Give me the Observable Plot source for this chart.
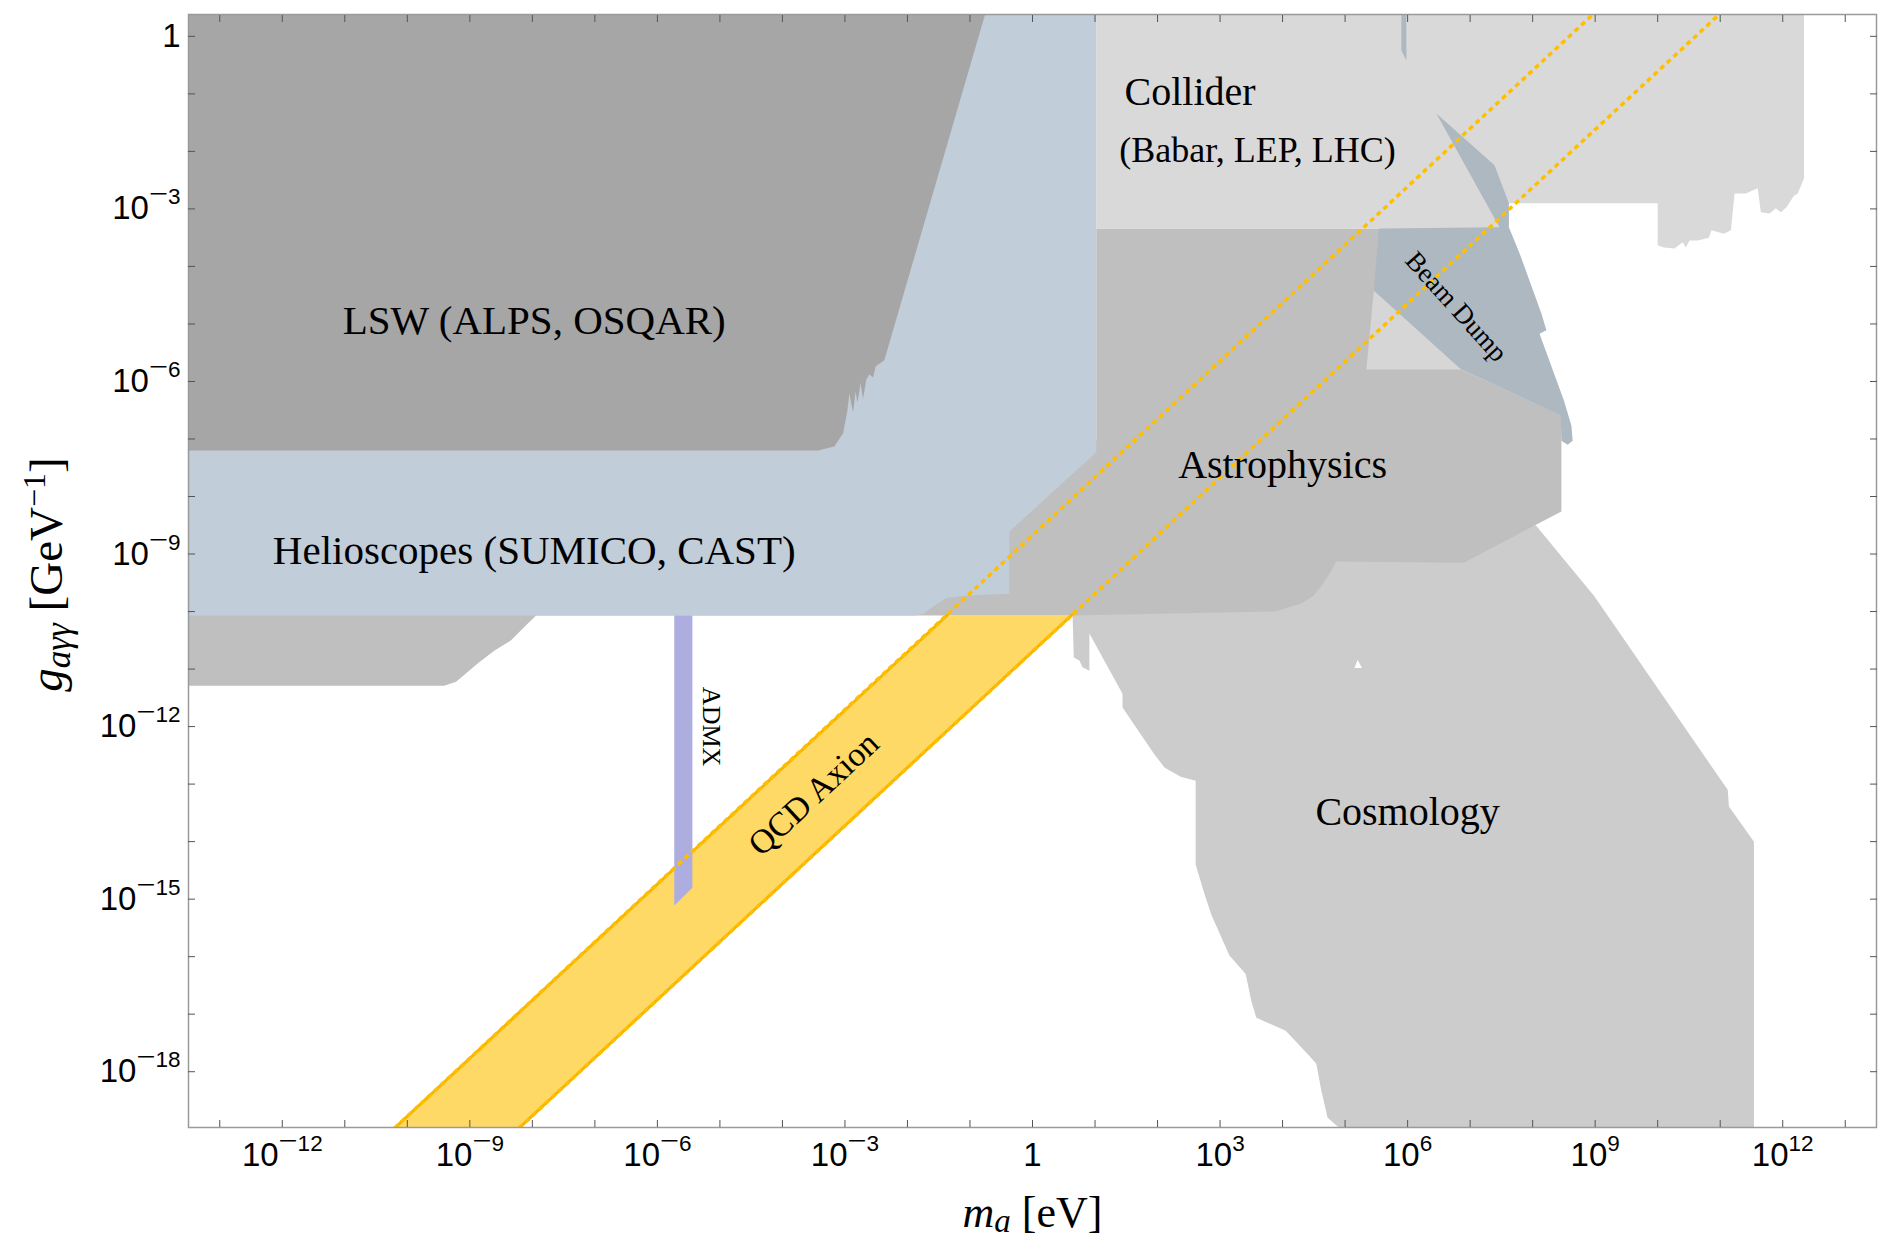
<!DOCTYPE html>
<html>
<head>
<meta charset="utf-8">
<script src="https://cdn.jsdelivr.net/npm/d3@7"></script>
<script src="https://cdn.jsdelivr.net/npm/@observablehq/plot@0.6"></script>
<style>
  html, body { margin: 0; padding: 0; background: #fff; }
  svg { display: block; }
</style>
</head>
<body>
<div id="chart"></div>
<script>
// All vertices are [log10(m_a / eV), log10(g_aγγ / GeV^-1)]
const lswBoundary = [[-13.6,0.6],[-13.6,-7.2],[-3.43,-7.2],[-3.17,-7.13],[-3.03,-6.9],[-2.96,-6.5],[-2.93,-6.21],[-2.87,-6.54],[-2.83,-6.17],[-2.8,-6.37],[-2.75,-6.03],[-2.71,-6.3],[-2.66,-5.97],[-2.61,-5.88],[-2.55,-5.93],[-2.51,-5.74],[-2.37,-5.63],[-0.7,0.6]];
const helioscopeBoundary = [[-13.6,0.6],[1.02,0.6],[1.02,-7.23],[-0.37,-8.61],[-0.37,-9.69],[-1.07,-9.72],[-1.38,-9.77],[-1.57,-9.9],[-1.74,-10.03],[-1.86,-10.07],[-13.6,-10.07]];
const astrophysicsBoundary = [[-13.6,-9.8],[-13.6,-11.29],[-9.41,-11.29],[-9.22,-11.22],[-8.86,-10.89],[-8.61,-10.68],[-8.34,-10.5],[-8.1,-10.24],[-7.94,-10.07],[0.64,-10.07],[3.87,-10.0],[4.3,-9.86],[4.5,-9.72],[4.64,-9.53],[4.78,-9.29],[4.86,-9.13],[6.9,-9.15],[8.46,-8.26],[8.46,-6.59],[6.86,-5.79],[6.5,-4.5],[6.5,-3.34],[1.02,-3.34],[1.02,-7.03],[-0.5,-8.07]];
const cosmologyBoundary = [[0.64,-10.03],[0.66,-10.8],[0.75,-10.85],[0.8,-10.97],[0.91,-11.03],[0.91,-10.38],[1.44,-11.43],[1.44,-11.67],[1.94,-12.47],[2.11,-12.71],[2.37,-12.87],[2.61,-12.94],[2.61,-14.4],[2.74,-14.87],[2.86,-15.27],[3.15,-15.98],[3.41,-16.3],[3.5,-16.77],[3.58,-17.06],[4.05,-17.29],[4.4,-17.69],[4.54,-17.86],[4.62,-18.33],[4.72,-18.8],[4.9,-18.97],[4.99,-19.2],[11.54,-19.2],[11.54,-14.0],[11.14,-13.39],[11.12,-13.1],[8.99,-9.74],[8.05,-8.5],[4.9,-8.8],[4.3,-9.6],[0.64,-9.8]];
const cosmologyGap = [[5.15,-10.98],[5.2,-10.84],[5.27,-10.98]];
const colliderBoundary = [[1.02,0.6],[12.34,0.6],[12.34,-2.47],[12.24,-2.73],[12.18,-2.77],[12.06,-2.97],[11.97,-3.06],[11.89,-2.99],[11.79,-3.08],[11.65,-3.06],[11.6,-2.64],[11.41,-2.73],[11.23,-2.73],[11.17,-3.37],[11.06,-3.43],[10.86,-3.37],[10.82,-3.5],[10.64,-3.55],[10.51,-3.55],[10.45,-3.67],[10.4,-3.58],[10.27,-3.69],[10.1,-3.67],[10.0,-3.63],[10.0,-2.9],[7.62,-2.9],[7.47,-3.34],[1.02,-3.34]];
const colliderPatch = [[5.46,-4.42],[5.34,-5.79],[6.86,-5.79]];
const beamDumpBoundary = [[6.46,-1.34],[7.39,-2.24],[7.62,-2.9],[7.62,-3.32],[7.79,-3.77],[8.14,-4.82],[8.22,-5.11],[8.11,-5.17],[8.5,-6.33],[8.62,-6.77],[8.64,-7.03],[8.56,-7.1],[8.46,-7.03],[8.45,-6.59],[6.86,-5.79],[5.46,-4.42],[5.54,-3.34],[7.47,-3.32]];
const beamDumpSliver = [[5.9,0.6],[5.98,0.6],[5.98,-0.42],[5.9,-0.24]];
const admxBoundary = [[-5.73,-10.07],[-5.44,-10.07],[-5.44,-14.8],[-5.73,-15.11]];
const qcdBand = [[-10.52,-19.3],[-1.36,-10.06],[0.63,-10.06],[-8.53,-19.3]];
const qcdUpperEdge = [[-10.52,-19.3],[-1.36,-10.06]];
const qcdLowerEdge = [[-8.53,-19.3],[0.63,-10.06]];
const qcdUpperDotted = [[-10.52,-19.3],[9.18,0.6]];
const qcdLowerDotted = [[-8.53,-19.3],[11.2,0.6]];

const regionLabels = [
  {text: "LSW (ALPS, OSQAR)", lm: -7.97, lg: -4.95},
  {text: "Helioscopes (SUMICO, CAST)", lm: -7.97, lg: -8.94}
];
const regionLabelsRight = [
  {text: "Collider", lm: 2.52, lg: -0.97},
  {text: "Astrophysics", lm: 4.0, lg: -7.46},
  {text: "Cosmology", lm: 6.0, lg: -13.48}
];
const colliderSubLabel = [{text: "(Babar, LEP, LHC)", lm: 3.6, lg: -1.99}];
const beamDumpLabel = [{text: "Beam Dump", lm: 6.78, lg: -4.70}];
const admxLabel = [{text: "ADMX", lm: -5.14, lg: -12.0}];
const qcdLabel = [{text: "QCD Axion", lm: -3.50, lg: -13.17}];

const xLabelExponents = [-12, -9, -6, -3, 0, 3, 6, 9, 12];
const yLabelExponents = [0, -3, -6, -9, -12, -15, -18];
const xTickExponents = [-13,-12,-11,-10,-9,-8,-7,-6,-5,-4,-3,-2,-1,0,1,2,3,4,5,6,7,8,9,10,11,12,13];
const yTickExponents = [0,-1,-2,-3,-4,-5,-6,-7,-8,-9,-10,-11,-12,-13,-14,-15,-16,-17,-18];

const xTitle = "m_a [eV]";
const yTitle = "g_aγγ [GeV^-1]";

// ---- helpers ----
const toPts = arr => arr.map(([lm, lg]) => ({m: 10 ** lm, g: 10 ** lg}));
const pow10 = arr => arr.map(e => 10 ** e);
const region = (arr, fill) => Plot.line(toPts(arr), {x: "m", y: "g", fill, stroke: "none", curve: "linear", clip: true});
const expLabel = v => {
  const e = Math.round(Math.log10(v));
  return e === 0 ? "1" : "10^" + (e < 0 ? "\u2212" : "") + Math.abs(e);
};
const lab = arr => arr.map(d => ({...d, m: 10 ** d.lm, g: 10 ** d.lg}));

const serif = "Liberation Serif, Times New Roman, serif";
const sans = "Liberation Sans, Arial, Helvetica, sans-serif";
const dotted = {x: "m", y: "g", stroke: "#ffbf00", strokeWidth: 3.5, strokeDasharray: "5,4", strokeLinecap: "butt", clip: true};

const svg = Plot.plot({
  width: 1881,
  height: 1240,
  marginLeft: 188,
  marginRight: 5,
  marginTop: 14,
  marginBottom: 113,
  style: {fontFamily: sans, fontSize: "33px", background: "#fff", color: "#000"},
  x: {type: "log", domain: [10 ** -13.5, 10 ** 13.5]},
  y: {type: "log", domain: [10 ** -18.97, 10 ** 0.38]},
  marks: [
    region(cosmologyBoundary, "#cccccc"),
    region(cosmologyGap, "#ffffff"),
    region(astrophysicsBoundary, "#bfbfbf"),
    region(colliderBoundary, "#d9d9d9"),
    region(colliderPatch, "#d6d6d6"),
    region(beamDumpBoundary, "#aeb8c1"),
    region(beamDumpSliver, "#aeb8c1"),
    region(helioscopeBoundary, "#c1cdd9"),
    region(lswBoundary, "#a6a6a6"),
    region(qcdBand, "#ffd966"),
    Plot.line(toPts(qcdUpperEdge), {x: "m", y: "g", stroke: "#f7b500", strokeWidth: 3, clip: true}),
    Plot.line(toPts(qcdLowerEdge), {x: "m", y: "g", stroke: "#f7b500", strokeWidth: 3, clip: true}),
    region(admxBoundary, "#adaedf"),
    Plot.line(toPts(qcdUpperDotted), dotted),
    Plot.line(toPts(qcdLowerDotted), dotted),
    Plot.text(lab(regionLabels), {x: "m", y: "g", text: "text", fontFamily: serif, fontSize: 41, fill: "#000"}),
    Plot.text(lab(regionLabelsRight), {x: "m", y: "g", text: "text", fontFamily: serif, fontSize: 40, fill: "#000"}),
    Plot.text(lab(colliderSubLabel), {x: "m", y: "g", text: "text", fontFamily: serif, fontSize: 36, fill: "#000"}),
    Plot.text(lab(beamDumpLabel), {x: "m", y: "g", text: "text", fontFamily: serif, fontSize: 27, rotate: 48, fill: "#000"}),
    Plot.text(lab(admxLabel), {x: "m", y: "g", text: "text", fontFamily: serif, fontSize: 26, rotate: 90, fill: "#000"}),
    Plot.text(lab(qcdLabel), {x: "m", y: "g", text: "text", fontFamily: serif, fontSize: 34, rotate: -43, fill: "#000"}),
    Plot.frame({stroke: "#9a9a9a", strokeWidth: 1.5}),
    Plot.axisX(pow10(xTickExponents), {anchor: "bottom", tickSize: -7, fill: "none", stroke: "#555", label: null}),
    Plot.axisX(pow10(xTickExponents), {anchor: "top", tickSize: -7, fill: "none", stroke: "#555", label: null}),
    Plot.axisY(pow10(yTickExponents), {anchor: "left", tickSize: -7, fill: "none", stroke: "#555", label: null}),
    Plot.axisY(pow10(yTickExponents), {anchor: "right", tickSize: -7, fill: "none", stroke: "#555", label: null}),
    Plot.axisX(pow10(xLabelExponents), {anchor: "bottom", tickSize: 0, tickPadding: 15, tickFormat: expLabel, fontSize: 33, fontFamily: sans, fill: "#000", label: null}),
    Plot.axisY(pow10(yLabelExponents), {anchor: "left", tickSize: 0, tickPadding: 8, tickFormat: expLabel, fontSize: 33, fontFamily: sans, fill: "#000", label: null}),
    Plot.text([xTitle], {frameAnchor: "bottom", text: d => d, dy: 99, textAnchor: "middle", fontFamily: serif, fontSize: 44, fill: "#000"}),
    Plot.text([yTitle], {frameAnchor: "left", text: d => d, dx: -142, dy: 3.5, rotate: -90, textAnchor: "middle", fontFamily: serif, fontSize: 47, fill: "#000"})
  ]
});

// Rich text: superscripts / subscripts
d3.select(svg).selectAll("text").each(function () {
  const s = this.textContent;
  const sel = d3.select(this);
  const m = s.match(/^10\^(\u2212?)(\d+)$/);
  if (m) {
    this.textContent = "";
    sel.append("tspan").text("10");
    if (m[1]) {
      sel.append("tspan").attr("font-size", 22.5).attr("dy", -18)
        .attr("textLength", 19).attr("lengthAdjust", "spacingAndGlyphs").text(m[1]);
      sel.append("tspan").attr("font-size", 22.5).attr("dy", 3).text(m[2]);
    } else {
      sel.append("tspan").attr("font-size", 22.5).attr("dy", -15).text(m[2]);
    }
  } else if (s === xTitle) {
    this.textContent = "";
    sel.append("tspan").attr("font-style", "italic").text("m");
    sel.append("tspan").attr("font-style", "italic").attr("font-size", 33).attr("dy", 5).text("a");
    sel.append("tspan").attr("dy", -5).text(" [eV]");
  } else if (s === yTitle) {
    this.textContent = "";
    sel.append("tspan").attr("font-style", "italic").text("g");
    sel.append("tspan").attr("font-style", "italic").attr("font-size", 35).attr("dy", 8).text("aγγ");
    sel.append("tspan").attr("dy", -8).text(" [GeV");
    sel.append("tspan").attr("font-size", 32).attr("dy", -17).text("\u22121");
    sel.append("tspan").attr("dy", 17).text("]");
  }
});

document.getElementById("chart").appendChild(svg);
</script>
</body>
</html>
